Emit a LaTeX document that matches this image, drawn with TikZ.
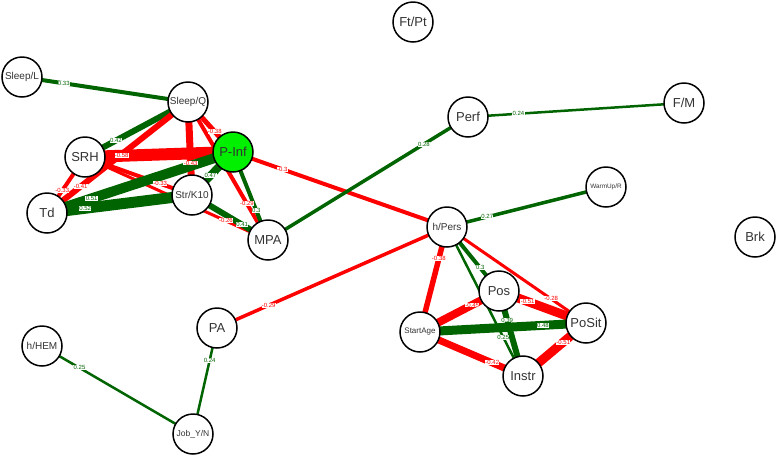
\documentclass[tikz,border=0pt]{standalone}
\usepackage{fontspec}
\setmainfont{Liberation Sans}
\definecolor{corpos}{RGB}{0,100,0}
\definecolor{corneg}{RGB}{255,0,0}
\definecolor{focus}{RGB}{0,240,0}
\pgfdeclarelayer{edges}
\pgfsetlayers{edges,main}

\begin{document}
\begin{tikzpicture}[x=1pt, y=-1pt,
  var/.style={circle, draw, line width=1.5pt, fill=white, minimum size=40pt, inner sep=0pt, text=black!80},
  big/.style={var, font=\fontsize{13}{13}\selectfont},
  mid/.style={var, font=\fontsize{10}{10}\selectfont},
  small/.style={var, font=\fontsize{8}{8}\selectfont},
  poscor/.style={draw=corpos},
  negcor/.style={draw=corneg},
  pw/.style={fill=white, inner sep=0.3pt, text=corpos, font=\fontsize{6}{6}\selectfont},
  nw/.style={pw, text=corneg}]
  \useasboundingbox (0,0) rectangle (777,456);

  % Variables
  \node[mid] (sleepL) at (22,77) {Sleep/L};
  \node[mid] (sleepQ) at (188,102) {Sleep/Q};
  \node[big, fill=focus] (pinf) at (233,152) {P-Inf};
  \node[big] (srh) at (85,157) {SRH};
  \node[big] (td) at (47,213) {Td};
  \node[mid] (str) at (192,195) {Str/K10};
  \node[big] (mpa) at (268,240) {MPA};
  \node[big] (perf) at (468,117) {Perf};
  \node[big] (fm) at (684,103) {F/M};
  \node[big] (ftpt) at (413,22) {Ft/Pt};
  \node[var, font=\fontsize{6.4}{6.4}\selectfont] (warm) at (606,187) {WarmUp/R};
  \node[big] (brk) at (755,237) {Brk};
  \node[mid] (hpers) at (447,227) {h/Pers};
  \node[big] (pos) at (499,291) {Pos};
  \node[small] (start) at (420,332) {StartAge};
  \node[big] (posit) at (586,323) {PoSit};
  \node[big] (instr) at (523,376) {Instr};
  \node[big] (pa) at (217,328) {PA};
  \node[mid] (hhem) at (42,346) {h/HEM};
  \node[small, font=\fontsize{8.5}{8.5}\selectfont] (job) at (193,434) {Job\_Y/N};

  % Edges (under the variables)
  \begin{pgfonlayer}{edges}
  \draw[poscor, line width=4pt] (sleepL.center) -- (sleepQ.center);
  \draw[poscor, line width=6pt] (srh.center) -- (sleepQ.center);
  \draw[negcor, line width=6pt] (td.center) -- (sleepQ.center);
  \draw[negcor, line width=4pt] (td.center) -- (srh.center);
  \draw[negcor, line width=12pt] (srh.center) -- (pinf.center);
  \draw[negcor, line width=4pt] (str.center) -- (srh.center);
  \draw[negcor, line width=3pt] (mpa.center) -- (srh.center);
  \draw[negcor, line width=5pt] (pinf.center) -- (sleepQ.center);
  \draw[negcor, line width=4pt] (mpa.center) -- (sleepQ.center);
  \draw[negcor, line width=7pt] (str.center) -- (sleepQ.center);
  \draw[poscor, line width=10pt] (td.center) -- (pinf.center);
  \draw[poscor, line width=11pt] (td.center) -- (str.center);
  \draw[poscor, line width=8pt] (str.center) -- (pinf.center);
  \draw[poscor, line width=6pt] (mpa.center) -- (str.center);
  \draw[poscor, line width=4pt] (mpa.center) -- (pinf.center);
  \draw[negcor, line width=4pt] (pinf.center) -- (hpers.center);
  \draw[poscor, line width=3.5pt] (perf.center) -- (mpa.center);
  \draw[poscor, line width=2.5pt] (perf.center) -- (fm.center);
  \draw[poscor, line width=3.5pt] (hpers.center) -- (warm.center);
  \draw[negcor, line width=3.5pt] (pa.center) -- (hpers.center);
  \draw[poscor, line width=2.5pt] (pa.center) -- (job.center);
  \draw[poscor, line width=2.5pt] (hhem.center) -- (job.center);
  \draw[negcor, line width=5.5pt] (hpers.center) -- (start.center);
  \draw[poscor, line width=4pt] (pos.center) -- (hpers.center);
  \draw[poscor, line width=2.5pt] (instr.center) -- (hpers.center);
  \draw[negcor, line width=3pt] (posit.center) -- (hpers.center);
  \draw[negcor, line width=8pt] (pos.center) -- (start.center);
  \draw[negcor, line width=9pt] (pos.center) -- (posit.center);
  \draw[poscor, line width=6pt] (pos.center) -- (instr.center);
  \draw[poscor, line width=9pt] (posit.center) -- (start.center);
  \draw[negcor, line width=7pt] (instr.center) -- (start.center);
  \draw[negcor, line width=9pt] (posit.center) -- (instr.center);
  \end{pgfonlayer}

  % Weights
  \path (sleepL) -- node[pw, pos=.17] {0.33} (sleepQ);
  \path (srh) -- node[pw, pos=.19] {0.42} (sleepQ);
  \path (td) -- node[nw, pos=.16] {-0.41} (sleepQ);
  \path (td) -- node[nw, pos=.25] {-0.33} (srh);
  \path (srh) -- node[nw, pos=.15] {-0.58} (pinf);
  \path (str) -- node[nw, pos=.18] {-0.33} (srh);
  \path (mpa) -- node[nw, pos=.16] {-0.26} (srh);
  \path (pinf) -- node[nw, pos=.25] {-0.38} (sleepQ);
  \path (mpa) -- node[nw, pos=.18] {-0.29} (sleepQ);
  \path (str) -- node[nw, pos=.22] {-0.43} (sleepQ);
  \path (td) -- node[pw, pos=.17] {0.51} (pinf);
  \path (td) -- node[pw, pos=.17] {0.52} (str);
  \path (str) -- node[pw, pos=.33] {0.47} (pinf);
  \path (mpa) -- node[pw, pos=.2] {0.41} (str);
  \path (mpa) -- node[pw, pos=.2] {0.3} (pinf);
  \path (pinf) -- node[nw, pos=.17] {-0.3} (hpers);
  \path (perf) -- node[pw, pos=.16] {0.28} (mpa);
  \path (perf) -- node[pw, pos=.17] {0.24} (fm);
  \path (hpers) -- node[pw, pos=.17] {0.27} (warm);
  \path (pa) -- node[nw, pos=.17] {-0.29} (hpers);
  \path (pa) -- node[pw, pos=.19] {0.24} (job);
  \path (hhem) -- node[pw, pos=.17] {0.25} (job);
  \path (hpers) -- node[nw, pos=.18] {-0.38} (start);
  \path (pos) -- node[pw, pos=.22] {0.3} (hpers);
  \path (instr) -- node[pw, pos=.18] {0.25} (hpers);
  \path (posit) -- node[nw, pos=.17] {-0.28} (hpers);
  \path (pos) -- node[nw, pos=.2] {-0.45} (start);
  \path (pos) -- node[nw, pos=.19] {-0.51} (posit);
  \path (pos) -- node[pw, pos=.2] {0.39} (instr);
  \path (posit) -- node[pw, pos=.18] {0.48} (start);
  \path (instr) -- node[nw, pos=.18] {-0.42} (start);
  \path (posit) -- node[nw, pos=.22] {-0.51} (instr);

\end{tikzpicture}
\end{document}
